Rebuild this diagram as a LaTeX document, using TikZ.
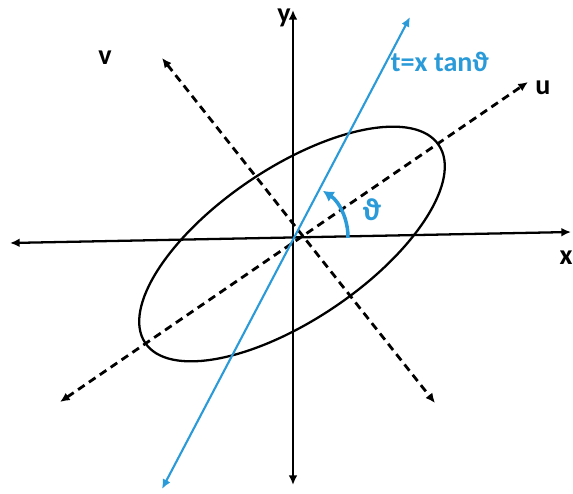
\documentclass[tikz,border=0pt]{standalone}
\usepackage{fontspec}
\setmainfont{Carlito}
\usepackage{xcolor}
\usepackage{tikz}
\usetikzlibrary{arrows.meta}
\definecolor{blue}{HTML}{2A9BD8}

\begin{document}
\begin{tikzpicture}[x=0.02cm,y=0.02cm,>={Latex[length=5.5pt,width=5pt]},
  lbl/.style={font=\fontsize{16}{19}\selectfont\bfseries}]
  \useasboundingbox (-293,-256) rectangle (280,237);
  \coordinate (O) at (0,0);
  \coordinate (xl) at (-283,-6); \coordinate (xr) at (278,5);
  \coordinate (yb) at (0,-248);  \coordinate (yt) at (0,227);
  \coordinate (ul) at (-233,-165); \coordinate (ur) at (235,155);
  \coordinate (vl) at (-131,179);  \coordinate (vr) at (142,-166);
  \coordinate (tl) at (-131,-252); \coordinate (tr) at (117,220);
  \draw[<->,line width=1.3pt] (xl)--(xr);
  \draw[<->,line width=1.3pt] (yb)--(yt);
  \draw[<->,line width=1.6pt,dash pattern=on 4.5pt off 3pt] (ul)--(ur);
  \draw[<->,line width=1.6pt,dash pattern=on 4.5pt off 3pt] (vl)--(vr);
  \draw[line width=1.3pt,shift={(-1,-7)},rotate=34] (0,0) ellipse [x radius=177,y radius=76];
  \draw[<->,blue,line width=1.2pt] (tl)--(tr);
  \draw[-{Latex[length=6pt,width=7pt]},blue,line width=2pt] (O) ++(-1:55) arc[start angle=-1,end angle=57,radius=55];
  \node[lbl] (xlab) at (273,-21) {x};
  \node[lbl] (ylab) at (-9,219) {y};
  \node[lbl] (ulab) at (250,149) {u};
  \node[lbl] (vlab) at (-188,179) {v};
  \node[lbl,blue] (tlab) at (147,175) {t=x tanϑ};
  \node[lbl,blue,font=\fontsize{18}{20}\selectfont\bfseries] (thlab) at (79,27) {ϑ};
\end{tikzpicture}
\end{document}
